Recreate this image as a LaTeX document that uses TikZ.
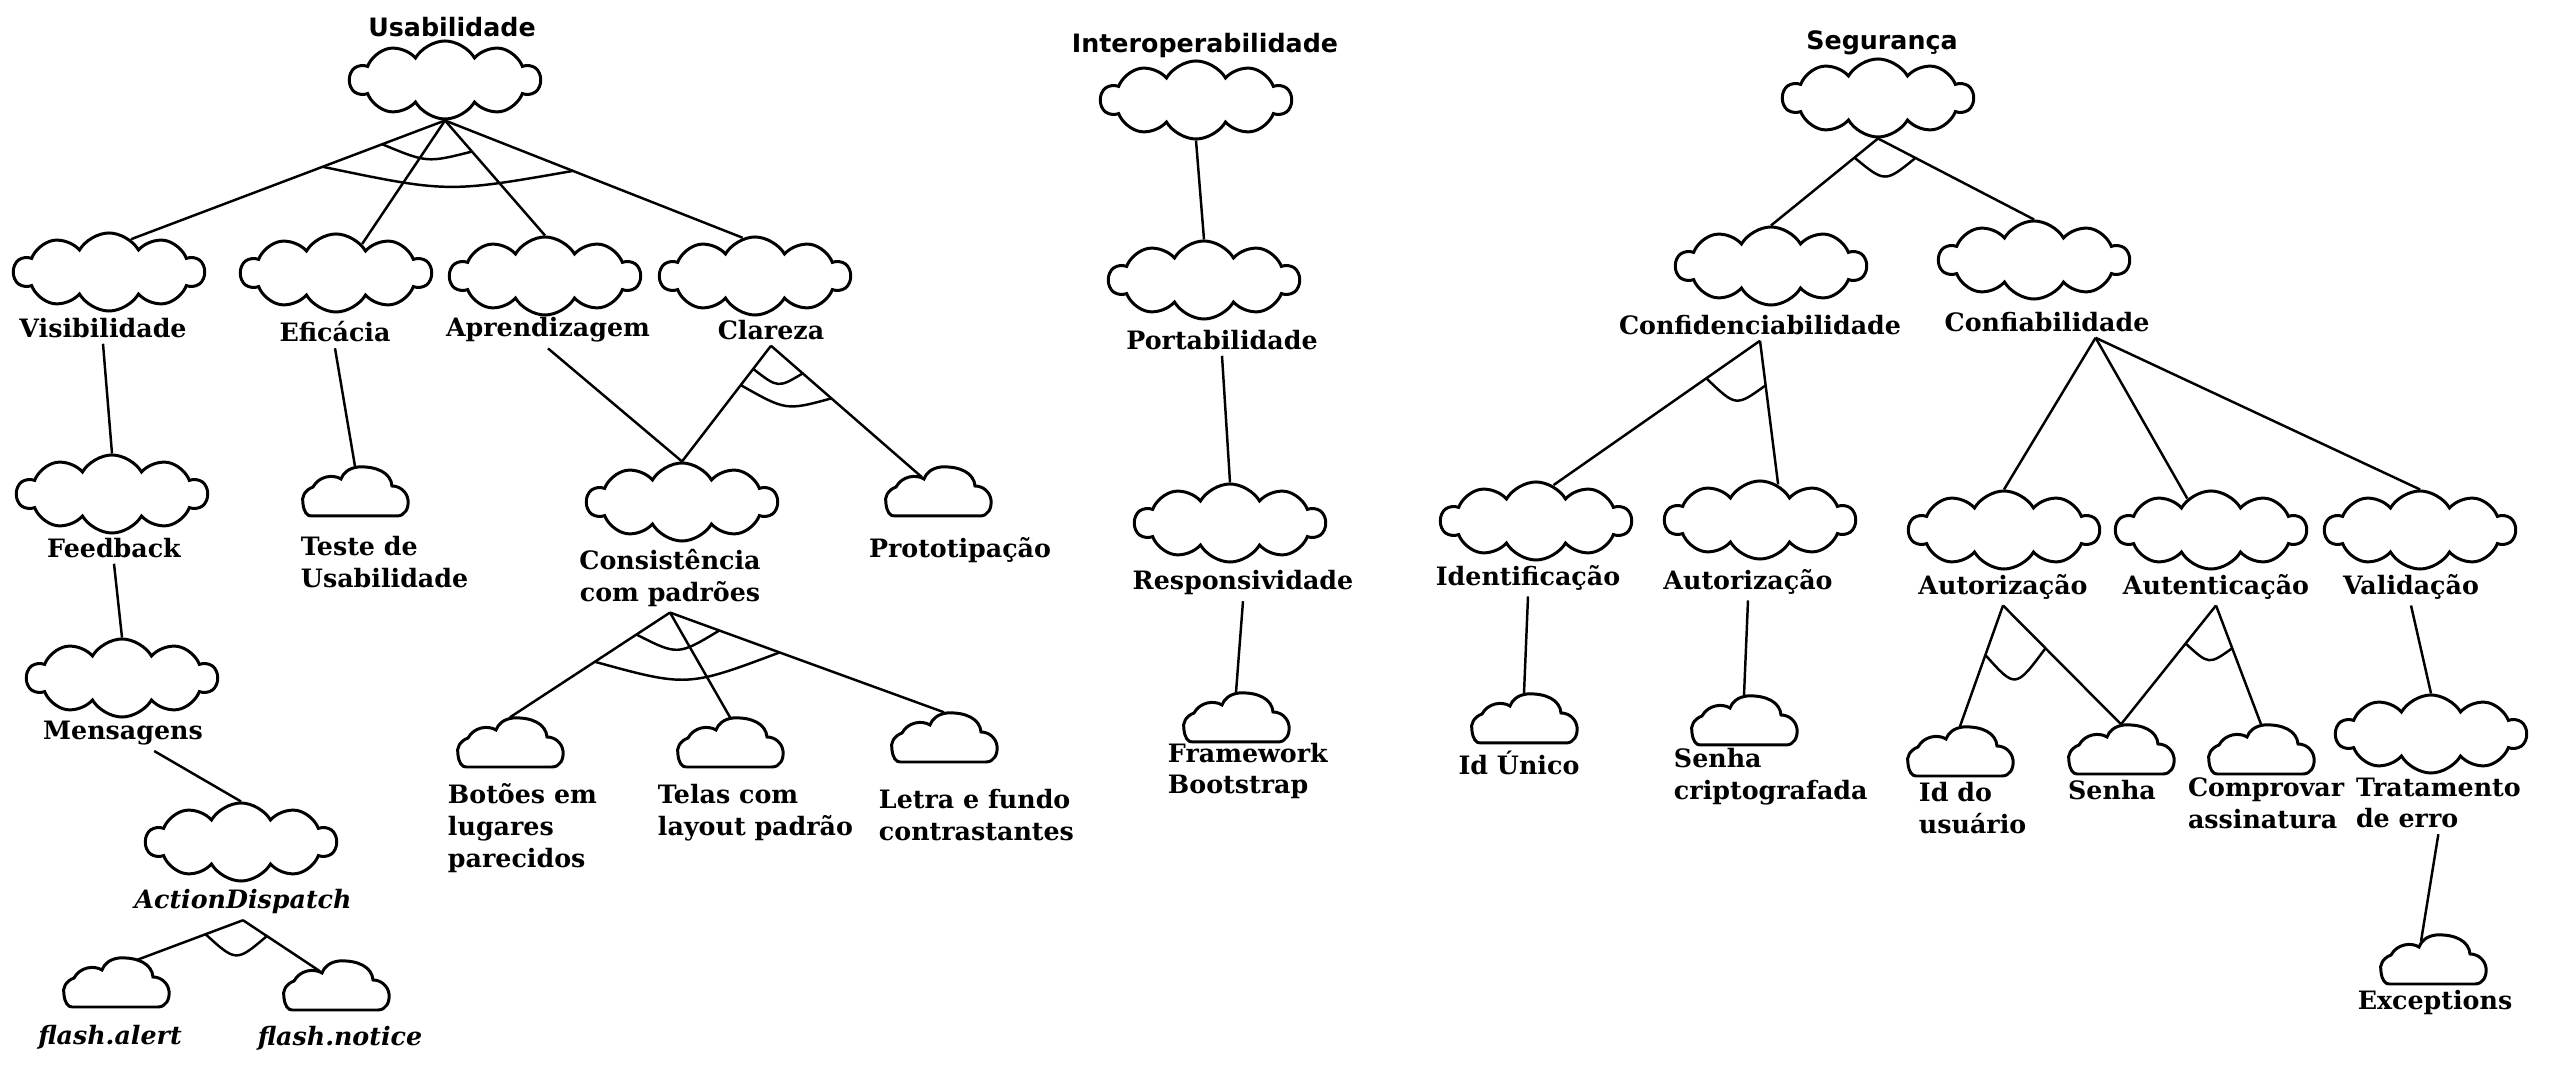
\documentclass[tikz,border=0pt]{standalone}
\usepackage{fontspec}
\setmainfont{DejaVu Serif}
\newfontfamily\titlefont{DejaVu Sans}
\usetikzlibrary{shapes.symbols,calc}

\tikzset{
    goal/.style={cloud, cloud puffs=10, cloud puff arc=120, cloud ignores aspect,
        draw, line width=0.85pt, minimum width=1.9cm, minimum height=0.78cm},
    task/.style={minimum width=1.04cm, minimum height=0.5cm, inner sep=0pt},
    lbl/.style={font=\fontsize{7.2}{9}\selectfont\bfseries, inner sep=1.5pt},
    ttl/.style={font=\titlefont\fontsize{7.2}{9}\selectfont\bfseries},
    link/.style={line width=0.7pt},
}

\begin{document}
\begin{tikzpicture}[x=0.01cm, y=-0.01cm]
    \useasboundingbox (0,0) rectangle (2560,1092);

    % Usabilidade
    \node[ttl] (tusab) at (452,27) {Usabilidade};
    \node[goal] (usab) at (445,80) {};
    \node[goal] (vis) at (109,272) {};
    \node[lbl] (lvis) at (103,328) {Visibilidade};
    \node[goal] (efic) at (336,273) {};
    \node[lbl] (lefic) at (335,332) {Eficácia};
    \node[goal] (apren) at (545,276) {};
    \node[lbl] (lapren) at (548,330) {Aprendizagem};
    \node[goal] (clar) at (755,276) {};
    \node[lbl] (lclar) at (771,330) {Clareza};
    \node[goal] (feed) at (112,494) {};
    \node[lbl] (lfeed) at (114,548) {Feedback};
    \node[goal] (mens) at (122,678) {};
    \node[lbl] (lmens) at (123,733) {Mensagens};
    \node[goal] (actd) at (241,842) {};
    \node[lbl] (lactd) at (243,902) {\itshape ActionDispatch};
    \node[task] (alert) at (116,983) {};
    \node[lbl] (lalert) at (110,1037) {\itshape flash.alert};
    \node[task] (notice) at (336,986) {};
    \node[lbl] (lnotice) at (340,1038) {\itshape flash.notice};
    \node[task] (teste) at (355,492) {};
    \node[lbl, align=left, anchor=west] (lteste) at (295,562) {Teste de\\Usabilidade};
    \node[goal] (consist) at (682,502) {};
    \node[lbl, align=center] (lconsist) at (670,578) {Consistência\\com padrões};
    \node[task] (proto) at (938,492) {};
    \node[lbl] (lproto) at (960,550) {Prototipação};
    \node[task] (botoes) at (510,743) {};
    \node[lbl, align=left, anchor=west] (lbotoes) at (442,828) {Botões em\\lugares\\parecidos};
    \node[task] (telas) at (730,743) {};
    \node[lbl, align=left, anchor=west] (ltelas) at (652,813) {Telas com\\layout padrão};
    \node[task] (letra) at (944,738) {};
    \node[lbl, align=left, anchor=west] (lletra) at (873,815) {Letra e fundo\\contrastantes};

    % Interoperabilidade
    \node[ttl] (tinter) at (1205,46) {Interoperabilidade};
    \node[goal] (inter) at (1196,100) {};
    \node[goal] (portab) at (1204,280) {};
    \node[lbl] (lportab) at (1222,340) {Portabilidade};
    \node[goal] (resp) at (1230,523) {};
    \node[lbl] (lresp) at (1243,583) {Responsividade};
    \node[task] (frame) at (1236,718) {};
    \node[lbl, align=left, anchor=west] (lframe) at (1162,771) {Framework\\Bootstrap};

    % Seguranca
    \node[ttl] (tseg) at (1882,43) {Segurança};
    \node[goal] (seg) at (1878,98) {};
    \node[goal] (confid) at (1771,266) {};
    \node[lbl] (lconfid) at (1760,325) {Confidenciabilidade};
    \node[goal] (confiab) at (2034,260) {};
    \node[lbl] (lconfiab) at (2047,322) {Confiabilidade};
    \node[goal] (ident) at (1536,521) {};
    \node[lbl] (lident) at (1528,578) {Identificação};
    \node[goal] (autz1) at (1760,520) {};
    \node[lbl] (lautz1) at (1748,582) {Autorização};
    \node[goal] (autz2) at (2004,530) {};
    \node[lbl] (lautz2) at (2003,587) {Autorização};
    \node[goal] (autent) at (2211,530) {};
    \node[lbl] (lautent) at (2216,587) {Autenticação};
    \node[goal] (valid) at (2420,530) {};
    \node[lbl] (lvalid) at (2411,587) {Validação};
    \node[task] (idunico) at (1524,719) {};
    \node[lbl] (lidunico) at (1519,763) {Id Único};
    \node[task] (senhacr) at (1744,721) {};
    \node[lbl, align=left, anchor=west] (lsenhacr) at (1668,777) {Senha\\criptografada};
    \node[task] (idusr) at (1960,752) {};
    \node[lbl, align=left, anchor=west] (lidusr) at (1913,808) {Id do\\usuário};
    \node[task] (senha) at (2121,750) {};
    \node[lbl] (lsenha) at (2112,790) {Senha};
    \node[task] (comprov) at (2261,750) {};
    \node[lbl, align=left, anchor=west] (lcomprov) at (2182,803) {Comprovar\\assinatura};
    \node[goal] (trat) at (2431,734) {};
    \node[lbl, align=left, anchor=west] (ltrat) at (2350,803) {Tratamento\\de erro};
    \node[task] (except) at (2433,960) {};
    \node[lbl] (lexcept) at (2435,1003) {Exceptions};

    % small clouds
    \foreach \n in {teste,proto,botoes,telas,letra,alert,notice,frame,
                    idunico,senhacr,idusr,senha,comprov,except}
        \draw[line width=0.85pt, shift={(\n.center)}]
            (-44,24) -- (42,24)
            .. controls (50,24) and (54,16) .. (53,8)
            .. controls (52,0) and (45,-6) .. (37,-6)
            .. controls (36,-19) and (22,-26) .. (3,-25)
            .. controls (-6,-24) and (-12,-19) .. (-14,-13)
            .. controls (-22,-18) and (-36,-16) .. (-42,-5)
            .. controls (-50,-2) and (-54,5) .. (-52,12)
            .. controls (-51,20) and (-48,24) .. (-44,24);

    % links
    \draw[link] (usab.south) -- coordinate[pos=.2] (ua1) coordinate[pos=.39] (ub1) (vis.56);
    \draw[link] (usab.south) -- (efic.48);
    \draw[link] (usab.south) -- coordinate[pos=.27] (ua2) (apren.north);
    \draw[link] (usab.south) -- coordinate[pos=.43] (ub2) (clar.108);
    \draw[link] (lvis.south) -- (feed.north);
    \draw[link] (lfeed.south) -- (mens.north);
    \draw[link] (lmens.-30) -- (actd.north);
    \draw[link] (lactd.south) -- coordinate[pos=.35] (da1) ($(alert.north)+(20,3)$);
    \draw[link] (lactd.south) -- coordinate[pos=.31] (da2) ($(notice.north)+(-16,11)$);
    \draw[link] (lefic.south) -- (teste.north);
    \draw[link] (lapren.south) -- (consist.north);
    \draw[link] (lclar.south) -- coordinate[pos=.2] (ca1) coordinate[pos=.34] (cb1) (consist.north);
    \draw[link] (lclar.south) -- coordinate[pos=.21] (ca2) coordinate[pos=.4] (cb2) ($(proto.north)+(-16,11)$);
    \draw[link] (lconsist.south) -- coordinate[pos=.21] (pa1) coordinate[pos=.47] (pb1) (botoes.north);
    \draw[link] (lconsist.south) -- (telas.north);
    \draw[link] (lconsist.south) -- coordinate[pos=.18] (pa2) coordinate[pos=.4] (pb2) (letra.north);

    \draw[link] (inter.south) -- (portab.north);
    \draw[link] (lportab.south) -- (resp.north);
    \draw[link] (lresp.south) -- (frame.north);

    \draw[link] (seg.south) -- coordinate[pos=.22] (sa1) (confid.north);
    \draw[link] (seg.south) -- coordinate[pos=.24] (sa2) (confiab.north);
    \draw[link] (lconfid.south) -- coordinate[pos=.26] (fa1) (ident.64);
    \draw[link] (lconfid.south) -- coordinate[pos=.31] (fa2) (autz1.63);
    \draw[link] (lconfiab.-18) -- (autz2.north);
    \draw[link] (lconfiab.-18) -- (autent.127);
    \draw[link] (lconfiab.-18) -- (valid.north);
    \draw[link] (lident.south) -- (idunico.north);
    \draw[link] (lautz1.south) -- (senhacr.north);
    \draw[link] (lautz2.south) -- coordinate[pos=.41] (za1) (idusr.north);
    \draw[link] (lautz2.south) -- coordinate[pos=.36] (za2) (senha.north);
    \draw[link] (lautent.south) -- coordinate[pos=.32] (ea1) (senha.north);
    \draw[link] (lautent.south) -- coordinate[pos=.36] (ea2) (comprov.north);
    \draw[link] (lvalid.south) -- (trat.north);
    \draw[link] (ltrat.south) -- ($(except.north)+(-12,7)$);

    % arcs
    \foreach \a/\b/\s in {ua1/ua2/15, ub1/ub2/24, ca1/ca2/17, cb1/cb2/19,
                          pa1/pa2/23, pb1/pb2/30, da1/da2/27, sa1/sa2/25,
                          fa1/fa2/25, za1/za2/37, ea1/ea2/19}
        \draw[link] (\a) .. controls ($(\a)!.5!(\b)+(0,\s)$) .. (\b);
\end{tikzpicture}
\end{document}
